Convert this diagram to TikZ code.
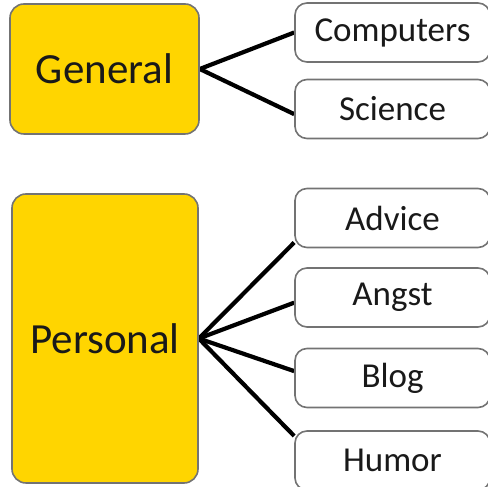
\documentclass[tikz,border=0pt]{standalone}
\usepackage{fontspec}
\setmainfont{Carlito}
\usetikzlibrary{backgrounds}
\definecolor{boxyellow}{RGB}{255,213,0}
\definecolor{boxborder}{RGB}{115,115,115}
\definecolor{txt}{RGB}{25,25,25}
\begin{document}
\begin{tikzpicture}[x=1pt,y=1pt,
  catbox/.style={draw=boxborder, line width=1.6pt, fill=boxyellow, rounded corners=14pt,
    inner sep=0pt, font=\fontsize{43}{47}\selectfont, text=txt},
  subbox/.style={draw=boxborder, line width=1.6pt, fill=white, rounded corners=12pt,
    minimum width=195pt, minimum height=59pt, inner sep=0pt,
    font=\fontsize{35}{39}\selectfont, text=txt},
  link/.style={line width=4.2pt, black}]
\useasboundingbox (0,0) rectangle (488,487);
\node[catbox, minimum width=189pt, minimum height=130pt] (general) at (104.5,418) {General};
\node[catbox, minimum width=186pt, minimum height=289pt] (personal) at (105,148.5) {Personal};
\node[subbox] (computers) at (392.5,454.5) {Computers};
\node[subbox] (science) at (392.5,378) {Science};
\node[subbox] (advice) at (392.5,269) {Advice};
\node[subbox] (angst) at (392.5,189.5) {Angst};
\node[subbox] (blog) at (392.5,109) {Blog};
\node[subbox] (humor) at (392.5,26.5) {Humor};
\begin{pgfonlayer}{background}
\draw[link] (general.east) -- (computers.west);
\draw[link] (general.east) -- (science.183);
\draw[link] (personal.east) -- (advice.194.7);
\draw[link] (personal.east) -- (angst.183.2);
\draw[link] (personal.east) -- (blog.176.5);
\draw[link] (personal.east) -- (humor.166);
\end{pgfonlayer}
\end{tikzpicture}
\end{document}
